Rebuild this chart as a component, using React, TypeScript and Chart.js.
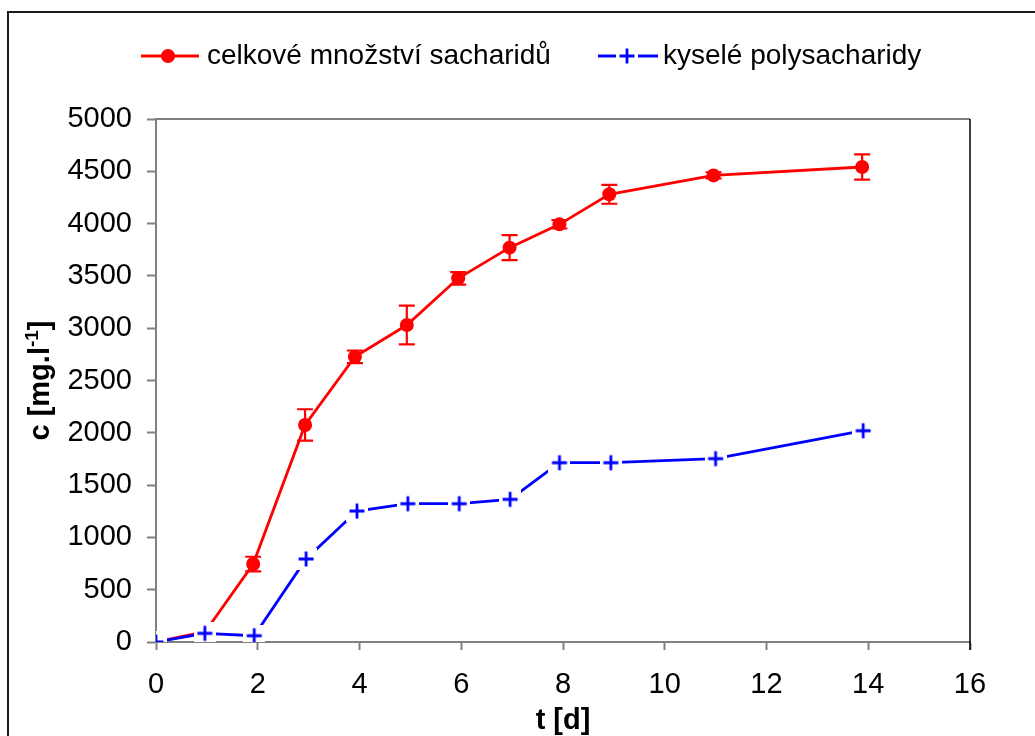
import React, { useEffect, useRef } from "react";
import { Chart, registerables } from "chart.js";

Chart.register(...registerables);

const xTicks = [0, 2, 4, 6, 8, 10, 12, 14, 16];
const yTicks = [0, 500, 1000, 1500, 2000, 2500, 3000, 3500, 4000, 4500, 5000];

const totalLabel = "celkové množství sacharidů";
const acidLabel = "kyselé polysacharidy";

const xTotal = [0, 0.97, 1.91, 2.93, 3.91, 4.93, 5.94, 6.95, 7.93, 8.91, 10.96, 13.88];
const yTotal = [0, 100, 745, 2075, 2727, 3030, 3477, 3770, 3993, 4280, 4461, 4541];
const errTotal = [0, 55, 70, 150, 60, 185, 60, 120, 40, 90, 30, 120];

const xAcid = [0, 0.96, 1.93, 2.95, 3.95, 4.95, 5.96, 6.96, 7.93, 8.94, 11.0, 13.9];
const yAcid = [0, 83, 60, 794, 1252, 1322, 1322, 1364, 1714, 1714, 1753, 2020];

const RED = "#ff0000";
const BLUE = "#0000ff";
const GRAY = "#808080";
const FONT = "'Liberation Sans', Arial, sans-serif";

function makePlus(): HTMLCanvasElement {
  const c = document.createElement("canvas");
  c.width = 22;
  c.height = 22;
  const g = c.getContext("2d")!;
  g.fillStyle = "#ffffff";
  g.fillRect(0, 0, 22, 22);
  g.strokeStyle = BLUE;
  g.lineWidth = 2.8;
  g.beginPath();
  g.moveTo(3.5, 11);
  g.lineTo(18.5, 11);
  g.moveTo(11, 3.5);
  g.lineTo(11, 18.5);
  g.stroke();
  return c;
}

export default function App() {
  const ref = useRef<HTMLCanvasElement | null>(null);

  useEffect(() => {
    if (!ref.current) return;
    const plus = makePlus();

    const decor = {
      id: "decor",
      beforeDraw(chart: any) {
        const ctx = chart.ctx;
        ctx.save();
        ctx.fillStyle = "#ffffff";
        ctx.fillRect(0, 0, chart.width, chart.height);
        ctx.restore();
      },
      afterDraw(chart: any) {
        const ctx = chart.ctx;
        const a = chart.chartArea;
        ctx.save();
        // outer border
        ctx.strokeStyle = "#1a1a1a";
        ctx.lineWidth = 2;
        ctx.beginPath();
        ctx.moveTo(8, 737);
        ctx.lineTo(8, 12);
        ctx.lineTo(1036, 12);
        ctx.stroke();
        // plot area top / right border
        ctx.strokeStyle = GRAY;
        ctx.lineWidth = 2;
        ctx.beginPath();
        ctx.moveTo(a.left, a.top);
        ctx.lineTo(a.right, a.top);
        ctx.stroke();
        ctx.strokeStyle = "#000000";
        ctx.lineWidth = 1.5;
        ctx.beginPath();
        ctx.moveTo(a.right, a.top);
        ctx.lineTo(a.right, a.bottom + 8);
        ctx.stroke();

        // legend
        ctx.lineWidth = 2.8;
        ctx.strokeStyle = RED;
        ctx.beginPath();
        ctx.moveTo(141, 56);
        ctx.lineTo(199, 56);
        ctx.stroke();
        ctx.fillStyle = RED;
        ctx.beginPath();
        ctx.arc(168, 56, 7, 0, Math.PI * 2);
        ctx.fill();
        ctx.strokeStyle = BLUE;
        ctx.beginPath();
        ctx.moveTo(598, 56);
        ctx.lineTo(658, 56);
        ctx.stroke();
        ctx.drawImage(plus, 627 - 11, 56 - 11);
        ctx.fillStyle = "#000000";
        ctx.font = `28px ${FONT}`;
        ctx.textAlign = "left";
        ctx.textBaseline = "alphabetic";
        ctx.fillText(totalLabel, 207, 64);
        ctx.fillText(acidLabel, 663, 64);

        // x title
        ctx.font = `bold 29px ${FONT}`;
        ctx.textAlign = "center";
        ctx.fillText("t [d]", (a.left + a.right) / 2, 729);

        // y title with superscript
        const p1 = "c [mg.l";
        const sup = "-1";
        const p3 = "]";
        ctx.font = `bold 29px ${FONT}`;
        const w1 = ctx.measureText(p1).width;
        const w3 = ctx.measureText(p3).width;
        ctx.font = `bold 19px ${FONT}`;
        const w2 = ctx.measureText(sup).width;
        const total = w1 + w2 + w3;
        ctx.translate(49, (a.top + a.bottom) / 2);
        ctx.rotate(-Math.PI / 2);
        ctx.textAlign = "left";
        let x0 = -total / 2;
        ctx.font = `bold 29px ${FONT}`;
        ctx.fillText(p1, x0, 0);
        x0 += w1;
        ctx.font = `bold 19px ${FONT}`;
        ctx.fillText(sup, x0, -11);
        x0 += w2;
        ctx.font = `bold 29px ${FONT}`;
        ctx.fillText(p3, x0, 0);
        ctx.restore();
      },
      afterDatasetDraw(chart: any, args: any) {
        if (args.index !== 0) return;
        const ctx = chart.ctx;
        const xs = chart.scales.x;
        const ys = chart.scales.y;
        ctx.save();
        ctx.strokeStyle = RED;
        ctx.lineWidth = 2.2;
        for (let i = 0; i < xTotal.length; i++) {
          const e = errTotal[i];
          if (!e) continue;
          const px = xs.getPixelForValue(xTotal[i]);
          const pt = ys.getPixelForValue(yTotal[i] + e);
          const pb = ys.getPixelForValue(yTotal[i] - e);
          ctx.beginPath();
          ctx.moveTo(px, pt);
          ctx.lineTo(px, pb);
          ctx.moveTo(px - 8, pt);
          ctx.lineTo(px + 8, pt);
          ctx.moveTo(px - 8, pb);
          ctx.lineTo(px + 8, pb);
          ctx.stroke();
        }
        ctx.restore();
      },
    };

    const chart = new Chart(ref.current, {
      type: "scatter",
      data: {
        datasets: [
          {
            label: totalLabel,
            data: xTotal.map((x, i) => ({ x, y: yTotal[i] })),
            showLine: true,
            borderColor: RED,
            backgroundColor: RED,
            borderWidth: 2.8,
            pointRadius: 7,
            pointBorderWidth: 0,
            pointStyle: "circle",
            order: 2,
          },
          {
            label: acidLabel,
            data: xAcid.map((x, i) => ({ x, y: yAcid[i] })),
            showLine: true,
            borderColor: BLUE,
            backgroundColor: BLUE,
            borderWidth: 2.8,
            pointRadius: 11,
            pointStyle: plus as any,
            order: 1,
          },
        ],
      },
      options: {
        animation: false,
        responsive: false,
        events: [],
        layout: { padding: { top: 119, right: 65, left: 0, bottom: 0 } },
        plugins: {
          legend: { display: false },
          tooltip: { enabled: false },
          title: { display: false },
        },
        scales: {
          x: {
            type: "linear",
            min: 0,
            max: 16,
            afterFit: (s: any) => {
              s.height = 94;
            },
            afterBuildTicks: (s: any) => {
              s.ticks = xTicks.map((v) => ({ value: v }));
            },
            border: { display: true, color: GRAY, width: 2 },
            grid: {
              display: true,
              drawOnChartArea: false,
              drawTicks: true,
              tickLength: 8,
              color: GRAY,
              tickWidth: 2,
            },
            ticks: {
              autoSkip: false,
              maxRotation: 0,
              padding: 18,
              color: "#000000",
              font: { family: FONT, size: 29 },
              callback: (v: any) => String(v),
            },
          },
          y: {
            type: "linear",
            min: 0,
            max: 5000,
            afterFit: (s: any) => {
              s.width = 156;
            },
            afterBuildTicks: (s: any) => {
              s.ticks = yTicks.map((v) => ({ value: v }));
            },
            border: { display: true, color: GRAY, width: 2 },
            grid: {
              display: true,
              drawOnChartArea: false,
              drawTicks: true,
              tickLength: 9,
              color: GRAY,
              tickWidth: 2,
            },
            ticks: {
              autoSkip: false,
              padding: 15,
              color: "#000000",
              font: { family: FONT, size: 29 },
              callback: (v: any) => String(v),
            },
          },
        },
      },
      plugins: [decor],
    } as any);

    return () => chart.destroy();
  }, []);

  return (
    <div style={{ position: "absolute", left: 0, top: 0, width: 1035, height: 736 }}>
      <canvas ref={ref} width={1035} height={736} style={{ display: "block", width: 1035, height: 736 }} />
    </div>
  );
}
